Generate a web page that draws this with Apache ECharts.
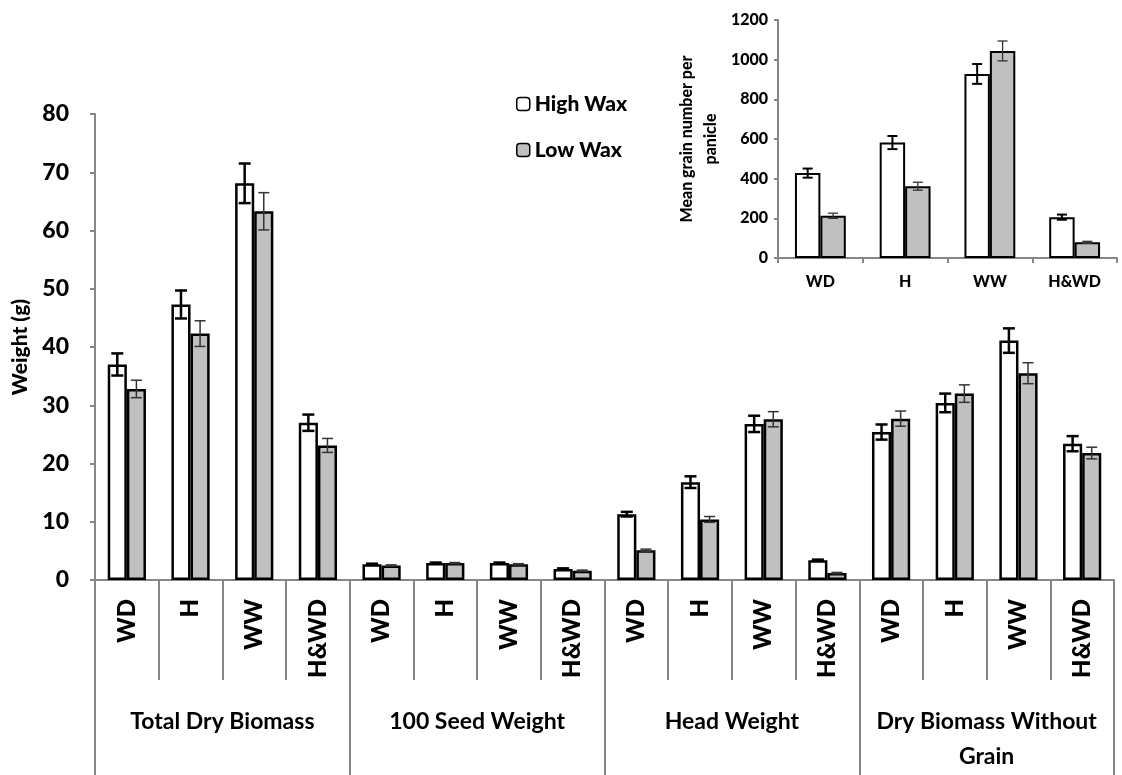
<!DOCTYPE html>
<html>
<head>
<meta charset="utf-8">
<script src="https://cdn.jsdelivr.net/npm/echarts@6/dist/echarts.min.js"></script>
<style>
html,body{margin:0;padding:0;background:#fff;}
#chart{width:1122px;height:775px;}
</style>
</head>
<body>
<div id="chart"></div>
<script>
// ---- data ----
var groups = ['Total Dry Biomass', '100 Seed Weight', 'Head Weight', 'Dry Biomass Without\nGrain'];
var treatments = ['WD', 'H', 'WW', 'H&WD'];
var mainCategories = [
  'WD','H','WW','H&WD',
  'WD','H','WW','H&WD',
  'WD','H','WW','H&WD',
  'WD','H','WW','H&WD'
];
var highWax    = [37.0, 47.3, 68.1, 27.0, 2.7, 2.9, 2.9, 1.9, 11.3, 16.8, 26.8, 3.4, 25.4, 30.4, 41.1, 23.4];
var highWaxErr = [1.9, 2.4, 3.4, 1.4, 0.1, 0.1, 0.1, 0.1, 0.4, 1.0, 1.4, 0.1, 1.3, 1.6, 2.1, 1.3];
var lowWax     = [32.8, 42.3, 63.3, 23.1, 2.5, 2.9, 2.7, 1.6, 5.1, 10.4, 27.6, 1.2, 27.7, 32.0, 35.5, 21.8];
var lowWaxErr  = [1.5, 2.2, 3.2, 1.2, 0.1, 0.1, 0.1, 0.1, 0.2, 0.5, 1.3, 0.1, 1.3, 1.5, 1.8, 1.0];

var grainHigh    = [428, 582, 928, 206];
var grainHighErr = [23, 33, 50, 13];
var grainLow     = [213, 362, 1044, 79];
var grainLowErr  = [13, 20, 50, 5];

var mainTicks = [0, 10, 20, 30, 40, 50, 60, 70, 80];
var insetTicks = [0, 200, 400, 600, 800, 1000, 1200];

// ---- helpers ----
var FONT = 'Lato';
var HEAVY = 900;
var AXIS_GRAY = '#868686';

function errData(vals, errs) {
  return vals.map(function (v, i) { return [i, v, errs[i]]; });
}
function errRender(sign, color, lw, half) {
  return function (params, api) {
    var x = api.value(0), v = api.value(1), e = api.value(2);
    var hi = api.coord([x, v + e]);
    var lo = api.coord([x, v - e]);
    var band = api.size([1, 0])[0];
    var cx = hi[0] + sign * band * 0.15;
    var st = { stroke: color, lineWidth: lw };
    return {
      type: 'group',
      children: [
        { type: 'line', shape: { x1: cx, y1: hi[1], x2: cx, y2: lo[1] }, style: st },
        { type: 'line', shape: { x1: cx - half, y1: hi[1], x2: cx + half, y2: hi[1] }, style: st },
        { type: 'line', shape: { x1: cx - half, y1: lo[1], x2: cx + half, y2: lo[1] }, style: st }
      ]
    };
  };
}

var chart = echarts.init(document.getElementById('chart'), null, { renderer: 'canvas' });

var option = {
  backgroundColor: '#fff',
  animation: false,
  textStyle: { fontFamily: FONT },
  legend: {
    data: ['High Wax', 'Low Wax'],
    orient: 'vertical',
    left: 511,
    top: 86,
    itemWidth: 13,
    itemHeight: 13,
    itemGap: 20,
    itemStyle: { borderColor: '#000', borderWidth: 1.5 },
    textStyle: { fontFamily: FONT, fontWeight: HEAVY, fontSize: 21, color: '#000', lineHeight: 26 }
  },
  grid: [
    { left: 95, right: 8, top: 114, bottom: 195 },
    { left: 778, right: 5, top: 20, bottom: 517 }
  ],
  xAxis: [
    {
      type: 'category', gridIndex: 0, data: mainCategories, position: 'bottom',
      axisLine: { show: true, lineStyle: { color: AXIS_GRAY, width: 2 } },
      axisTick: { show: true, interval: 0, length: 100, lineStyle: { color: AXIS_GRAY, width: 2 } },
      axisLabel: { interval: 0, rotate: 90, margin: 19, fontFamily: FONT, fontWeight: HEAVY, fontSize: 24, color: '#000' }
    },
    {
      type: 'category', gridIndex: 0, data: groups, position: 'bottom', offset: 0,
      axisLine: { show: false },
      axisTick: { show: true, interval: 0, length: 195, lineStyle: { color: AXIS_GRAY, width: 2 } },
      axisLabel: { interval: 0, margin: 124, fontFamily: FONT, fontWeight: 'bold', fontSize: 23, lineHeight: 35, color: '#000' }
    },
    {
      type: 'category', gridIndex: 1, data: treatments, position: 'bottom',
      axisLine: { show: true, lineStyle: { color: AXIS_GRAY, width: 2 } },
      axisTick: { show: true, interval: 0, length: 5, lineStyle: { color: AXIS_GRAY, width: 2 } },
      axisLabel: { interval: 0, margin: 16, fontFamily: FONT, fontWeight: HEAVY, fontSize: 16, color: '#000' }
    }
  ],
  yAxis: [
    {
      type: 'value', gridIndex: 0, min: 0, max: 80, interval: 10,
      axisLine: { show: true, lineStyle: { color: AXIS_GRAY, width: 2 } },
      axisTick: { show: true, length: 5, lineStyle: { color: AXIS_GRAY, width: 2 } },
      splitLine: { show: false },
      axisLabel: { margin: 26, fontFamily: FONT, fontWeight: HEAVY, fontSize: 23, color: '#000',
        formatter: function (v) { return mainTicks.indexOf(v) >= 0 ? String(v) : ''; } },
      name: 'Weight (g)', nameLocation: 'middle', nameGap: 64, nameRotate: 90,
      nameTextStyle: { fontFamily: FONT, fontWeight: HEAVY, fontSize: 21, color: '#000' }
    },
    {
      type: 'value', gridIndex: 1, min: 0, max: 1200, interval: 200,
      axisLine: { show: true, lineStyle: { color: AXIS_GRAY, width: 2 } },
      axisTick: { show: true, length: 4, lineStyle: { color: AXIS_GRAY, width: 2 } },
      splitLine: { show: false },
      axisLabel: { margin: 10, fontFamily: FONT, fontWeight: HEAVY, fontSize: 16, color: '#000',
        formatter: function (v) { return insetTicks.indexOf(v) >= 0 ? String(v) : ''; } },
      name: 'Mean grain number per\npanicle', nameLocation: 'middle', nameGap: 55, nameRotate: 90,
      nameTextStyle: { fontFamily: FONT, fontWeight: HEAVY, fontSize: 16, lineHeight: 24, color: '#000' }
    }
  ],
  series: [
    {
      name: 'High Wax', type: 'bar', xAxisIndex: 0, yAxisIndex: 0, data: highWax,
      barGap: '0%', barCategoryGap: '40%',
      itemStyle: { color: '#ffffff', borderColor: '#000', borderWidth: 2.5 }
    },
    {
      name: 'Low Wax', type: 'bar', xAxisIndex: 0, yAxisIndex: 0, data: lowWax,
      barGap: '0%', barCategoryGap: '40%',
      itemStyle: { color: '#c0c0c0', borderColor: '#000', borderWidth: 2.5 }
    },
    {
      name: 'errHigh', type: 'custom', xAxisIndex: 0, yAxisIndex: 0, z: 5,
      data: errData(highWax, highWaxErr), encode: { x: 0, y: 1 },
      renderItem: errRender(-1, '#000', 2.5, 6)
    },
    {
      name: 'errLow', type: 'custom', xAxisIndex: 0, yAxisIndex: 0, z: 5,
      data: errData(lowWax, lowWaxErr), encode: { x: 0, y: 1 },
      renderItem: errRender(1, '#333', 1.5, 5.5)
    },
    {
      name: 'High Wax', type: 'bar', xAxisIndex: 2, yAxisIndex: 1, data: grainHigh,
      barGap: '0%', barCategoryGap: '40%',
      itemStyle: { color: '#ffffff', borderColor: '#000', borderWidth: 2 }
    },
    {
      name: 'Low Wax', type: 'bar', xAxisIndex: 2, yAxisIndex: 1, data: grainLow,
      barGap: '0%', barCategoryGap: '40%',
      itemStyle: { color: '#c0c0c0', borderColor: '#000', borderWidth: 2 }
    },
    {
      name: 'errGrainHigh', type: 'custom', xAxisIndex: 2, yAxisIndex: 1, z: 5,
      data: errData(grainHigh, grainHighErr), encode: { x: 0, y: 1 },
      renderItem: errRender(-1, '#000', 2, 5)
    },
    {
      name: 'errGrainLow', type: 'custom', xAxisIndex: 2, yAxisIndex: 1, z: 5,
      data: errData(grainLow, grainLowErr), encode: { x: 0, y: 1 },
      renderItem: errRender(1, '#333', 1.3, 5)
    }
  ]
};

chart.setOption(option);
</script>
</body>
</html>
